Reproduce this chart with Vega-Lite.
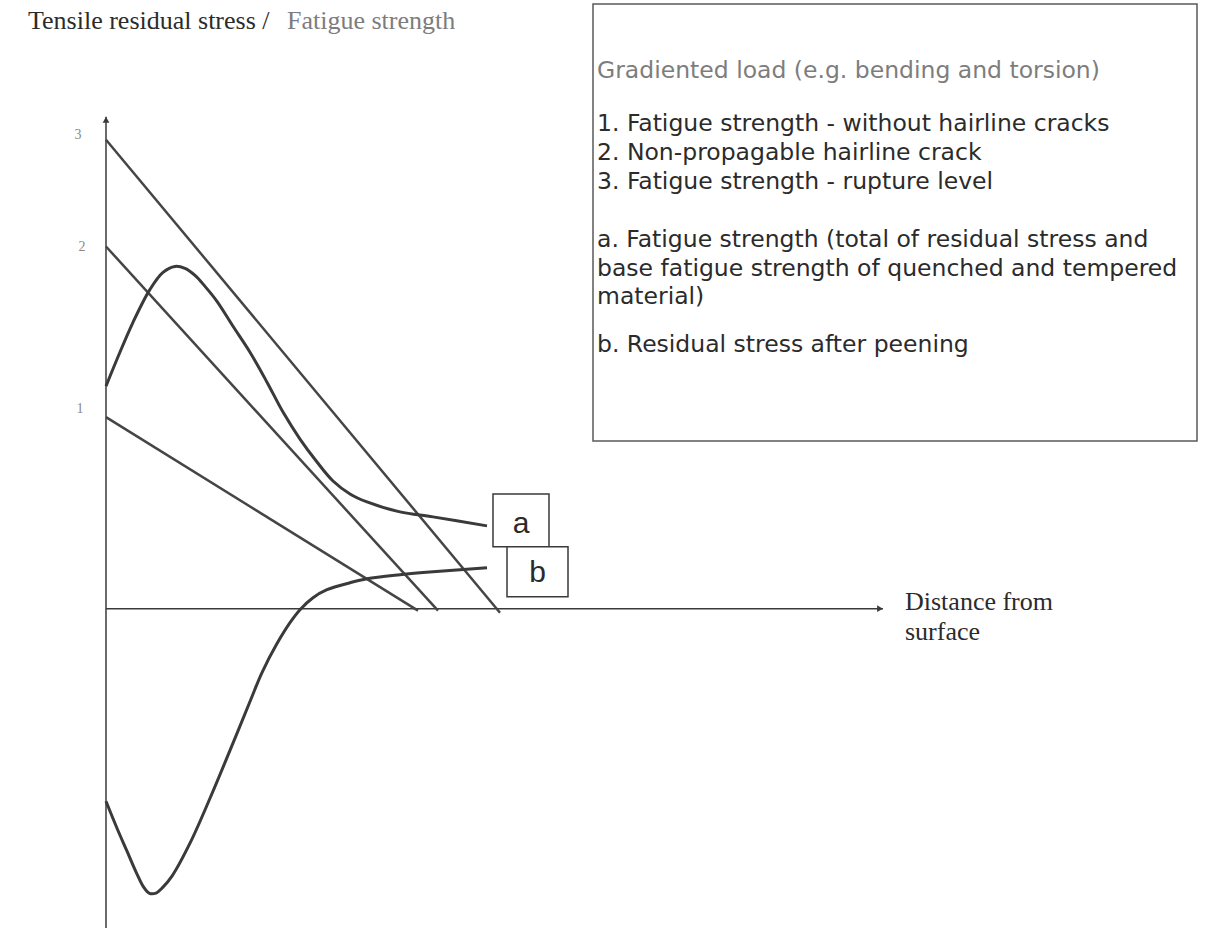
{
  "$schema": "https://vega.github.io/schema/vega-lite/v6.json",
  "width": 1221,
  "height": 929,
  "autosize": {"type": "fit", "contains": "padding"},
  "padding": 0,
  "background": "white",
  "config": {"view": {"stroke": null}},
  "datasets": {
    "axes": [
      {"x": 0, "y": -3.2, "x2": 0, "y2": 4.93},
      {"x": 0, "y": 0, "x2": 7.77, "y2": 0}
    ],
    "arrows": [
      {"x": 0, "y": 4.9, "shape": "triangle-up"},
      {"x": 7.74, "y": 0, "shape": "triangle-right"}
    ],
    "straight": [
      {"series": "1", "x": 0, "y": 1.92},
      {"series": "1", "x": 3.12, "y": -0.02},
      {"series": "2", "x": 0, "y": 3.63},
      {"series": "2", "x": 3.32, "y": -0.02},
      {"series": "3", "x": 0, "y": 4.7},
      {"series": "3", "x": 3.94, "y": -0.04}
    ],
    "curves": [
      {"series": "a", "x": 0.0, "y": 2.23},
      {"series": "a", "x": 0.11, "y": 2.5},
      {"series": "a", "x": 0.27, "y": 2.87},
      {"series": "a", "x": 0.44, "y": 3.2},
      {"series": "a", "x": 0.57, "y": 3.37},
      {"series": "a", "x": 0.69, "y": 3.43},
      {"series": "a", "x": 0.79, "y": 3.41},
      {"series": "a", "x": 0.89, "y": 3.34},
      {"series": "a", "x": 0.99, "y": 3.23},
      {"series": "a", "x": 1.11, "y": 3.08},
      {"series": "a", "x": 1.27, "y": 2.83},
      {"series": "a", "x": 1.44, "y": 2.57},
      {"series": "a", "x": 1.61, "y": 2.27},
      {"series": "a", "x": 1.77, "y": 1.97},
      {"series": "a", "x": 1.94, "y": 1.7},
      {"series": "a", "x": 2.11, "y": 1.47},
      {"series": "a", "x": 2.27, "y": 1.28},
      {"series": "a", "x": 2.44, "y": 1.15},
      {"series": "a", "x": 2.61, "y": 1.07},
      {"series": "a", "x": 2.94, "y": 0.97},
      {"series": "a", "x": 3.27, "y": 0.92},
      {"series": "a", "x": 3.81, "y": 0.83},
      {"series": "b", "x": 0.0, "y": -1.93},
      {"series": "b", "x": 0.11, "y": -2.2},
      {"series": "b", "x": 0.21, "y": -2.43},
      {"series": "b", "x": 0.31, "y": -2.66},
      {"series": "b", "x": 0.37, "y": -2.78},
      {"series": "b", "x": 0.43, "y": -2.85},
      {"series": "b", "x": 0.5, "y": -2.85},
      {"series": "b", "x": 0.57, "y": -2.79},
      {"series": "b", "x": 0.66, "y": -2.68},
      {"series": "b", "x": 0.84, "y": -2.35},
      {"series": "b", "x": 1.04, "y": -1.9},
      {"series": "b", "x": 1.24, "y": -1.42},
      {"series": "b", "x": 1.44, "y": -0.93},
      {"series": "b", "x": 1.56, "y": -0.64},
      {"series": "b", "x": 1.71, "y": -0.35},
      {"series": "b", "x": 1.84, "y": -0.14},
      {"series": "b", "x": 1.94, "y": -0.01},
      {"series": "b", "x": 2.07, "y": 0.11},
      {"series": "b", "x": 2.21, "y": 0.19},
      {"series": "b", "x": 2.44, "y": 0.26},
      {"series": "b", "x": 2.61, "y": 0.3},
      {"series": "b", "x": 2.94, "y": 0.34},
      {"series": "b", "x": 3.27, "y": 0.37},
      {"series": "b", "x": 3.81, "y": 0.41}
    ],
    "boxes": [
      {"name": "legend", "x": 4.87, "x2": 10.91, "y": 6.06, "y2": 1.68},
      {"name": "a", "x": 3.87, "x2": 4.43, "y": 1.15, "y2": 0.62},
      {"name": "b", "x": 4.01, "x2": 4.62, "y": 0.62, "y2": 0.12}
    ],
    "boxLabels": [
      {"label": "a", "x": 4.15, "y": 0.85},
      {"label": "b", "x": 4.315, "y": 0.36}
    ],
    "legendText": [
      {"text": "Gradiented load (e.g. bending and torsion)", "x": 4.91, "y": 5.32, "tone": "light"},
      {"text": "1. Fatigue strength - without hairline cracks", "x": 4.91, "y": 4.79, "tone": "dark"},
      {"text": "2. Non-propagable hairline crack", "x": 4.91, "y": 4.5, "tone": "dark"},
      {"text": "3. Fatigue strength - rupture level", "x": 4.91, "y": 4.21, "tone": "dark"},
      {"text": "a. Fatigue strength (total of residual stress and", "x": 4.91, "y": 3.62, "tone": "dark"},
      {"text": "base fatigue strength of quenched and tempered", "x": 4.91, "y": 3.33, "tone": "dark"},
      {"text": "material)", "x": 4.91, "y": 3.05, "tone": "dark"},
      {"text": "b. Residual stress after peening", "x": 4.91, "y": 2.57, "tone": "dark"}
    ],
    "serifText": [
      {"text": "Tensile residual stress /", "x": -0.78, "y": 5.81, "tone": "dark"},
      {"text": "Fatigue strength", "x": 1.81, "y": 5.81, "tone": "light"},
      {"text": "Distance from", "x": 7.99, "y": -0.01, "tone": "dark"},
      {"text": "surface", "x": 7.99, "y": -0.31, "tone": "dark"}
    ],
    "ticks": [
      {"label": "3", "x": -0.28, "y": 4.75},
      {"label": "2", "x": -0.24, "y": 3.62},
      {"label": "1", "x": -0.26, "y": 2.0}
    ]
  },
  "layer": [
    {
      "data": {"name": "boxes"},
      "transform": [{"filter": "datum.name == 'legend'"}],
      "mark": {"type": "rect", "fill": "white", "stroke": "#5a5a5a", "strokeWidth": 1.5},
      "encoding": {
        "x": {"field": "x", "type": "quantitative", "scale": {"domain": [-1.06, 11.15], "nice": false, "zero": false}, "axis": null},
        "x2": {"field": "x2"},
        "y": {"field": "y", "type": "quantitative", "scale": {"domain": [-3.19, 6.1], "nice": false, "zero": false}, "axis": null},
        "y2": {"field": "y2"}
      }
    },
    {
      "data": {"name": "axes"},
      "mark": {"type": "rule", "stroke": "#3a3a3a", "strokeWidth": 1.5},
      "encoding": {
        "x": {"field": "x", "type": "quantitative", "axis": null},
        "x2": {"field": "x2"},
        "y": {"field": "y", "type": "quantitative", "axis": null},
        "y2": {"field": "y2"}
      }
    },
    {
      "data": {"name": "arrows"},
      "mark": {"type": "point", "filled": true, "color": "#3a3a3a", "size": 45, "opacity": 1},
      "encoding": {
        "x": {"field": "x", "type": "quantitative", "axis": null},
        "y": {"field": "y", "type": "quantitative", "axis": null},
        "shape": {"field": "shape", "type": "nominal", "scale": null, "legend": null}
      }
    },
    {
      "data": {"name": "straight"},
      "mark": {"type": "line", "stroke": "#454545", "strokeWidth": 2.5},
      "encoding": {
        "x": {"field": "x", "type": "quantitative", "axis": null},
        "y": {"field": "y", "type": "quantitative", "axis": null},
        "detail": {"field": "series", "type": "nominal"}
      }
    },
    {
      "data": {"name": "curves"},
      "mark": {"type": "line", "stroke": "#3a3a3a", "strokeWidth": 3, "interpolate": "catmull-rom"},
      "encoding": {
        "x": {"field": "x", "type": "quantitative", "axis": null},
        "y": {"field": "y", "type": "quantitative", "axis": null},
        "detail": {"field": "series", "type": "nominal"}
      }
    },
    {
      "data": {"name": "boxes"},
      "transform": [{"filter": "datum.name != 'legend'"}],
      "mark": {"type": "rect", "fill": "white", "stroke": "#3a3a3a", "strokeWidth": 1.5},
      "encoding": {
        "x": {"field": "x", "type": "quantitative", "axis": null},
        "x2": {"field": "x2"},
        "y": {"field": "y", "type": "quantitative", "axis": null},
        "y2": {"field": "y2"}
      }
    },
    {
      "data": {"name": "boxLabels"},
      "mark": {"type": "text", "font": "Liberation Sans", "fontSize": 30, "color": "#2a2a2a", "align": "center", "baseline": "middle"},
      "encoding": {
        "x": {"field": "x", "type": "quantitative", "axis": null},
        "y": {"field": "y", "type": "quantitative", "axis": null},
        "text": {"field": "label"}
      }
    },
    {
      "data": {"name": "legendText"},
      "mark": {"type": "text", "font": "DejaVu Sans", "fontSize": 23.5, "align": "left", "baseline": "alphabetic"},
      "encoding": {
        "x": {"field": "x", "type": "quantitative", "axis": null},
        "y": {"field": "y", "type": "quantitative", "axis": null},
        "text": {"field": "text"},
        "color": {"field": "tone", "type": "nominal", "scale": {"domain": ["dark", "light"], "range": ["#2b2b2b", "#7d7d7d"]}, "legend": null}
      }
    },
    {
      "data": {"name": "serifText"},
      "mark": {"type": "text", "font": "Liberation Serif", "fontSize": 26, "align": "left", "baseline": "alphabetic"},
      "encoding": {
        "x": {"field": "x", "type": "quantitative", "axis": null},
        "y": {"field": "y", "type": "quantitative", "axis": null},
        "text": {"field": "text"},
        "color": {"field": "tone", "type": "nominal", "scale": {"domain": ["dark", "light"], "range": ["#2b2b2b", "#8a8a8a"]}, "legend": null}
      }
    },
    {
      "data": {"name": "ticks"},
      "mark": {"type": "text", "font": "Liberation Serif", "fontSize": 14, "color": "#8a8a8a", "align": "center", "baseline": "middle"},
      "encoding": {
        "x": {"field": "x", "type": "quantitative", "axis": null},
        "y": {"field": "y", "type": "quantitative", "axis": null},
        "text": {"field": "label"}
      }
    }
  ]
}
